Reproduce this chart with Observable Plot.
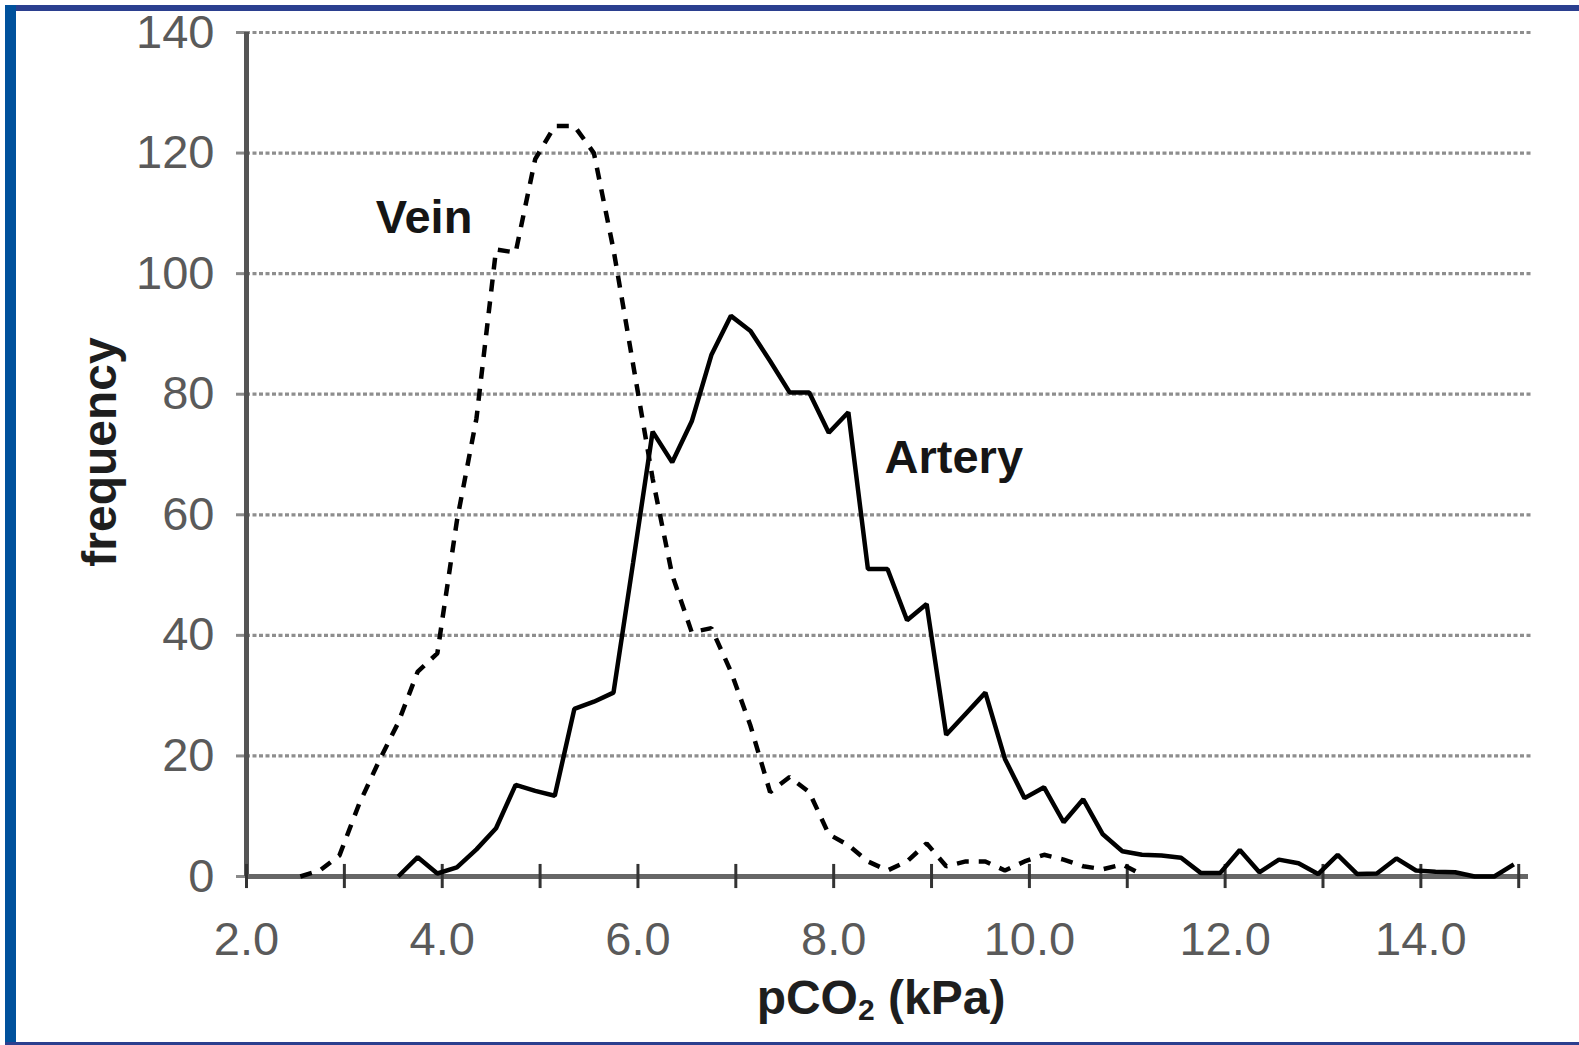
<!DOCTYPE html>
<html>
<head>
<meta charset="utf-8">
<script src="https://cdn.jsdelivr.net/npm/d3@7"></script>
<script src="https://cdn.jsdelivr.net/npm/@observablehq/plot@0.6"></script>
<style>
  html, body { margin: 0; padding: 0; background: #ffffff; }
  #wrap { position: relative; width: 1579px; height: 1045px; overflow: hidden; background: #fff; }
  .bar { position: absolute; }
  #chart { position: absolute; left: 0; top: 0; }
  .title { position: absolute; font-family: "Liberation Sans", Arial, sans-serif; font-weight: bold; color: #1e1e1e; white-space: nowrap; line-height: 1; }
</style>
</head>
<body>
<div id="wrap">
  <div id="chart"></div>
  <div class="bar" style="left:5px;top:5px;width:1574px;height:6px;background:#2b3f8f"></div>
  <div class="bar" style="left:5px;top:5px;width:11px;height:1040px;background:#00519c"></div>
  <div class="bar" style="left:5px;top:1042px;width:1574px;height:3px;background:#2b3f8f"></div>
  <div class="title" id="ytitle" style="font-size:48px;left:100px;top:452px;transform:translate(-50%,-50%) rotate(-90deg);">frequency</div>
  <div class="title" id="xtitle" style="font-size:48px;left:881px;top:974px;transform:translateX(-50%);">pCO<sub style="font-size:30px;vertical-align:-6px;">2</sub> (kPa)</div>
</div>
<script>
// ---- data ----
const arteryX = [3.55,3.75,3.95,4.15,4.35,4.55,4.75,4.95,5.15,5.35,5.55,5.75,5.95,6.15,6.35,6.55,6.75,6.95,7.15,7.35,7.55,7.75,7.95,8.15,8.35,8.55,8.75,8.95,9.15,9.35,9.55,9.75,9.95,10.15,10.35,10.55,10.75,10.95,11.15,11.35,11.55,11.75,11.95,12.15,12.35,12.55,12.75,12.95,13.15,13.35,13.55,13.75,13.95,14.15,14.35,14.55,14.75,14.95];
const arteryY = [0,3.2,0.5,1.5,4.5,8,15.2,14.2,13.4,27.8,29,30.5,52,73.8,68.7,75.5,86.5,93,90.5,85.5,80.3,80.3,73.6,77,51,51,42.5,45.2,23.5,27,30.5,19.5,13,14.8,9,12.8,7,4.2,3.6,3.5,3.1,0.6,0.6,4.4,0.7,2.8,2.2,0.4,3.6,0.4,0.5,3,1,0.8,0.7,0,0,2];

const veinX = [2.55,2.75,2.95,3.15,3.35,3.55,3.75,3.95,4.15,4.35,4.55,4.75,4.95,5.15,5.35,5.55,5.75,5.95,6.15,6.35,6.55,6.75,6.95,7.15,7.35,7.55,7.75,7.95,8.15,8.35,8.55,8.75,8.95,9.15,9.35,9.55,9.75,9.95,10.15,10.35,10.55,10.75,10.95,11.15];
const veinY = [0,1,3.5,12,19,25.5,34,37,59,76,104,103.5,119,124.5,124.5,120,104,85,66,50,40.5,41.2,34,25,14,16.5,14,7,5.2,2.5,1,2.5,5.5,1.7,2.5,2.5,1,2.5,3.6,2.8,1.7,1.2,2,0.3];

const seriesNames = ["Artery", "Vein"];
const xTicks = [2,3,4,5,6,7,8,9,10,11,12,13,14,15];
const xLabelValues = [2,4,6,8,10,12,14];
const xLabels = ["2.0","4.0","6.0","8.0","10.0","12.0","14.0"];
const yTicks = [0,20,40,60,80,100,120,140];
const yGrid = [20,40,60,80,100,120,140];
// label anchors (data units)
const labelX = [8.52, 3.32];
const labelY = [69.5, 109.3];

const artery = arteryX.map((x, i) => ({x, y: arteryY[i]}));
const vein = veinX.map((x, i) => ({x, y: veinY[i]}));
const labels = seriesNames.map((name, i) => ({name, x: labelX[i], y: labelY[i]}));

const chart = Plot.plot({
  width: 1579,
  height: 1045,
  marginLeft: 246,
  marginRight: 51,
  marginTop: 32,
  marginBottom: 169,
  style: {fontFamily: "'Liberation Sans', Arial, sans-serif", background: "transparent", overflow: "visible"},
  x: {domain: [2, 15.1]},
  y: {domain: [0, 140]},
  marks: [
    Plot.ruleY(yGrid, {y: d => d, stroke: "#8e8e8e", strokeWidth: 3.2, strokeDasharray: "4,2.5", strokeLinecap: "butt", insetRight: -4}),
    Plot.axisY(yTicks, {tickSize: 10, tickPadding: 22, stroke: "#8a8a8a", strokeWidth: 3, fill: "#5a5a5a", fontSize: 47, label: null, tickFormat: d => String(d)}),
    Plot.axisX(xTicks, {tickSize: 0, tickPadding: 45, fill: "#5a5a5a", fontSize: 47, label: null,
      tickFormat: d => { const k = xLabelValues.indexOf(d); return k >= 0 ? xLabels[k] : ""; }}),
    Plot.ruleX([2], {stroke: "#555", strokeWidth: 5}),
    Plot.ruleY([0], {stroke: "#666", strokeWidth: 5}),
    Plot.ruleX(xTicks, {x: d => d, y1: -2, y2: 2, stroke: "#333", strokeWidth: 3}),
    Plot.line(vein, {x: "x", y: "y", stroke: "#000", strokeWidth: 4.5, strokeDasharray: "12,10", strokeLinejoin: "miter", strokeLinecap: "butt"}),
    Plot.line(artery, {x: "x", y: "y", stroke: "#000", strokeWidth: 4.5, strokeLinejoin: "miter", strokeLinecap: "butt"}),
    Plot.text(labels, {x: "x", y: "y", text: "name", textAnchor: "start", fontSize: 47, fontWeight: "bold", fill: "#151515"})
  ]
});
document.getElementById("chart").appendChild(chart);
</script>
</body>
</html>
